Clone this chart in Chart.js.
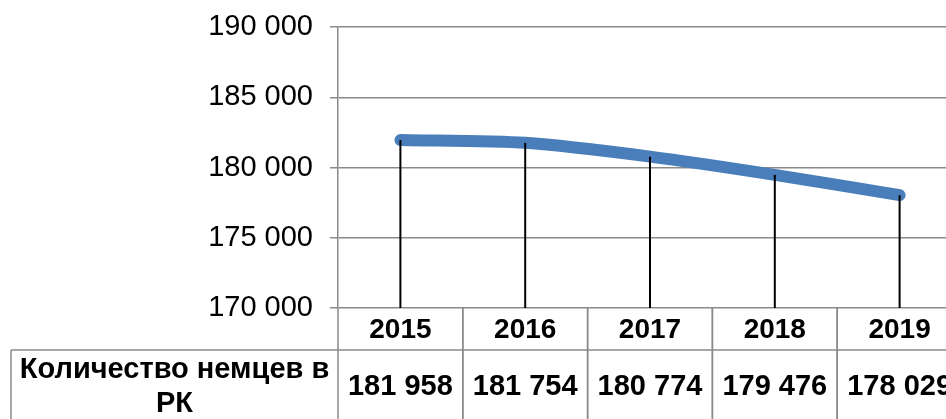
<!DOCTYPE html>
<html>
<head>
<meta charset="utf-8">
<script src="https://cdn.jsdelivr.net/npm/chart.js@4"></script>
<style>
html,body{margin:0;padding:0;background:#fff;overflow:hidden;}
#wrap{width:962px;height:440px;}
</style>
</head>
<body>
<div id="wrap"><canvas id="c" width="962" height="440"></canvas></div>
<script>
const years = ['2015', '2016', '2017', '2018', '2019'];
const germans = [181958, 181754, 180774, 179476, 178029];
const seriesLabel = ['Количество немцев в', 'РК'];
const yMin = 170000, yMax = 190000, yStep = 5000;

const fmt = v => String(v).replace(/\B(?=(\d{3})+(?!\d))/g, ' ');
const GRID = '#8a8a8a';

const dropLines = {
  id: 'dropLines',
  afterDatasetsDraw(chart) {
    const ctx = chart.ctx;
    const meta = chart.getDatasetMeta(0);
    const bottom = chart.chartArea.bottom;
    ctx.save();
    ctx.strokeStyle = '#000';
    ctx.lineWidth = 2;
    meta.data.forEach(p => {
      ctx.beginPath();
      ctx.moveTo(p.x, p.y);
      ctx.lineTo(p.x, bottom);
      ctx.stroke();
    });
    ctx.restore();
  }
};

const dataTable = {
  id: 'dataTable',
  afterDraw(chart) {
    const ctx = chart.ctx;
    const xs = chart.scales.x;
    const top = chart.chartArea.bottom;
    const half = (xs.getPixelForValue(1) - xs.getPixelForValue(0)) / 2;
    const row1 = top + 42;
    const row2 = chart.height + 10;
    const labelLeft = 11;
    ctx.save();
    ctx.strokeStyle = GRID;
    ctx.lineWidth = 1.5;
    ctx.beginPath();
    ctx.moveTo(labelLeft, row1);
    ctx.lineTo(chart.width, row1);
    ctx.stroke();
    ctx.beginPath();
    ctx.moveTo(labelLeft, row1);
    ctx.lineTo(labelLeft, row2);
    ctx.stroke();
    years.forEach((y, i) => {
      const cx = xs.getPixelForValue(i);
      [cx - half, cx + half].forEach(bx => {
        ctx.beginPath();
        ctx.moveTo(bx, top);
        ctx.lineTo(bx, row2);
        ctx.stroke();
      });
    });
    ctx.fillStyle = '#000';
    ctx.textAlign = 'center';
    ctx.textBaseline = 'middle';
    ctx.font = 'bold 28px "Liberation Sans", Arial, sans-serif';
    years.forEach((y, i) => {
      const cx = xs.getPixelForValue(i);
      ctx.fillText(y, cx, top + 22);
    });
    ctx.font = 'bold 29px "Liberation Sans", Arial, sans-serif';
    years.forEach((y, i) => {
      const cx = xs.getPixelForValue(i);
      ctx.fillText(fmt(germans[i]), cx, 387);
    });
    const lc = (labelLeft + xs.left) / 2;
    ctx.fillText(seriesLabel[0], lc, 370);
    ctx.fillText(seriesLabel[1], lc, 404);
    ctx.restore();
  }
};

new Chart(document.getElementById('c'), {
  type: 'line',
  data: {
    labels: years,
    datasets: [{
      data: germans,
      borderColor: '#4a7ebb',
      borderWidth: 12,
      borderCapStyle: 'round',
      borderJoinStyle: 'round',
      pointRadius: 0,
      pointHoverRadius: 0,
      tension: 0.25,
      fill: false
    }]
  },
  options: {
    responsive: false,
    animation: false,
    devicePixelRatio: 1,
    layout: { padding: { left: 0, top: 27, right: 0, bottom: 132 } },
    plugins: { legend: { display: false }, tooltip: { enabled: false } },
    scales: {
      x: {
        display: false,
        offset: true
      },
      y: {
        min: yMin,
        max: yMax,
        afterFit(s) { s.width = 338; s.paddingTop = 0; s.paddingBottom = 0; },
        ticks: {
          stepSize: yStep,
          padding: 17,
          color: '#000',
          font: { family: '"Liberation Sans", Arial, sans-serif', size: 29 },
          callback: v => fmt(v)
        },
        grid: { color: GRID, lineWidth: 1.5, tickLength: 8 },
        border: { display: true, color: GRID, width: 1.5 }
      }
    }
  },
  plugins: [dropLines, dataTable]
});
</script>
</body>
</html>
